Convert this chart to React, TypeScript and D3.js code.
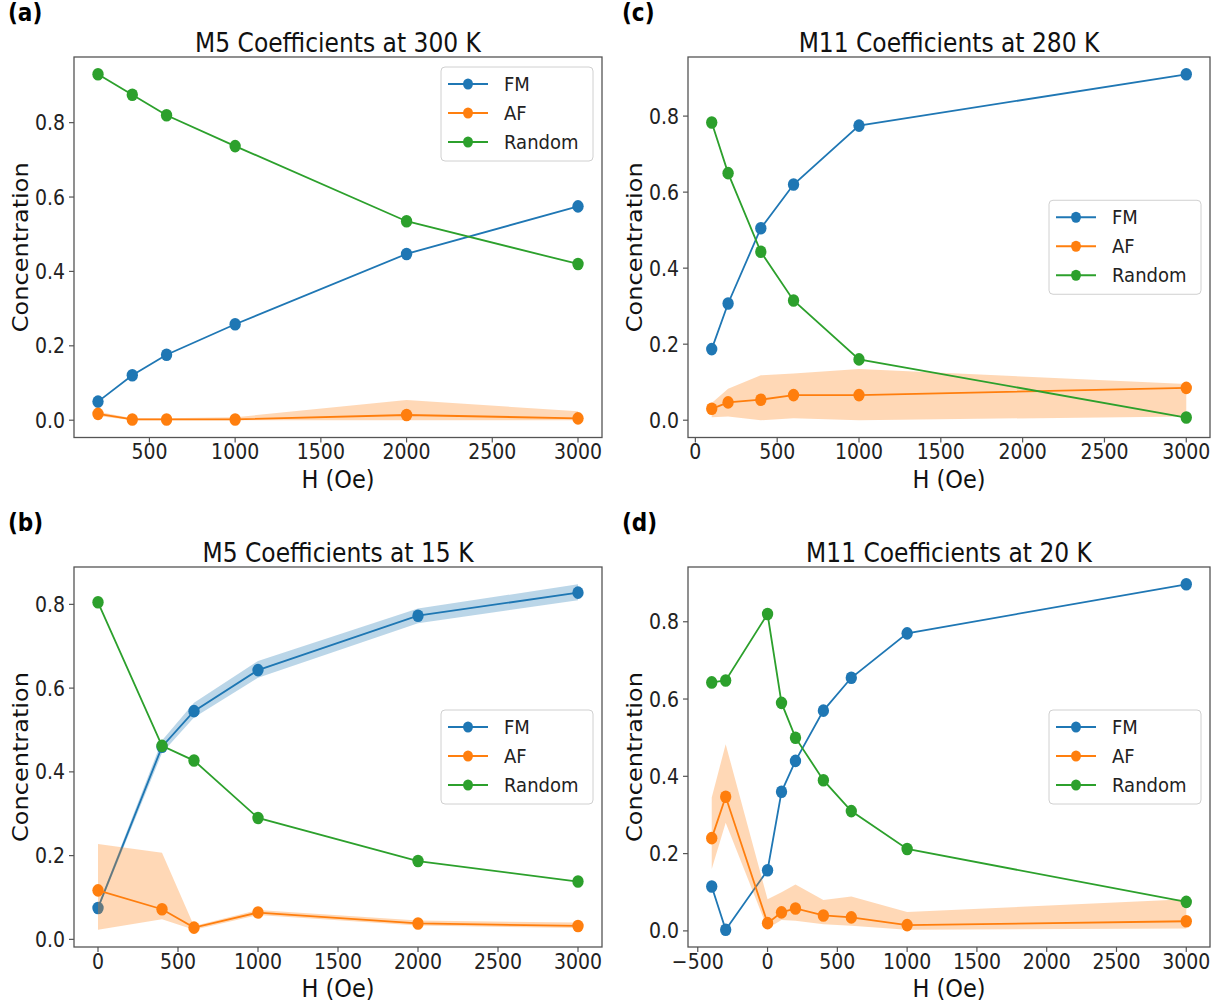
import * as d3 from 'd3';
import React from 'react';

const W = 1225, H = 1005;
const SX = 0.9; // reference picture is a little squashed horizontally
const FONT = '"DejaVu Sans", sans-serif';
const COLORS = { FM: '#1f77b4', AF: '#ff7f0e', Random: '#2ca02c' };
const names = ['FM', 'AF', 'Random'];

// (a) M5 at 300 K
const hA = [200, 400, 600, 1000, 2000, 3000];
const fmA = [0.05, 0.121, 0.176, 0.258, 0.447, 0.575];
const afA = [0.017, 0.002, 0.002, 0.002, 0.014, 0.005];
const afLoA = [0.011, 0.0, 0.0, 0.0, 0.0, 0.0];
const afHiA = [0.023, 0.005, 0.005, 0.008, 0.054, 0.024];
const rndA = [0.93, 0.875, 0.82, 0.737, 0.535, 0.42];

// (b) M5 at 15 K
const hB = [0, 400, 600, 1000, 2000, 3000];
const fmB = [0.075, 0.46, 0.545, 0.643, 0.773, 0.828];
const fmLoB = [0.07, 0.445, 0.53, 0.625, 0.755, 0.81];
const fmHiB = [0.08, 0.475, 0.565, 0.665, 0.79, 0.848];
const afB = [0.117, 0.072, 0.028, 0.064, 0.038, 0.032];
const afLoB = [0.023, 0.048, 0.023, 0.058, 0.033, 0.027];
const afHiB = [0.228, 0.207, 0.032, 0.07, 0.045, 0.04];
const rndB = [0.805, 0.462, 0.427, 0.29, 0.187, 0.138];

// (c) M11 at 280 K
const hC = [100, 200, 400, 600, 1000, 3000];
const fmC = [0.187, 0.307, 0.505, 0.62, 0.775, 0.91];
const afC = [0.03, 0.047, 0.054, 0.066, 0.066, 0.085];
const afLoC = [0.008, 0.01, 0.0, 0.005, 0.0, 0.01];
const afHiC = [0.045, 0.083, 0.118, 0.123, 0.135, 0.095];
const rndC = [0.783, 0.65, 0.443, 0.315, 0.16, 0.007];

// (d) M11 at 20 K
const hD = [-400, -300, 0, 100, 200, 400, 600, 1000, 3000];
const fmD = [0.115, 0.003, 0.157, 0.36, 0.44, 0.57, 0.655, 0.77, 0.897];
const afD = [0.24, 0.347, 0.02, 0.048, 0.058, 0.04, 0.035, 0.015, 0.025];
const afLoD = [0.16, 0.28, 0.006, 0.028, 0.026, 0.017, 0.013, 0.003, 0.006];
const afHiD = [0.345, 0.483, 0.082, 0.1, 0.12, 0.08, 0.089, 0.049, 0.082];
const rndD = [0.643, 0.648, 0.82, 0.59, 0.5, 0.39, 0.31, 0.212, 0.075];

const yTicks = [0, 0.2, 0.4, 0.6, 0.8];
const xTicksA = [500, 1000, 1500, 2000, 2500, 3000];
const xTicks0 = [0, 500, 1000, 1500, 2000, 2500, 3000];
const xTicksD = [-500, 0, 500, 1000, 1500, 2000, 2500, 3000];

type Series = { name: string; y: number[]; lo?: number[]; hi?: number[] };

const sq = (x: number, y: number) => `translate(${x},${y}) scale(${SX},1)`;

function Panel({ label, title, box, h, series, xTicks, legendPos }: any) {
  const [x0, x1, y0, y1] = box;
  const ys: number[] = [];
  series.forEach((s: Series) => {
    ys.push(...s.y);
    if (s.lo) ys.push(...s.lo, ...(s.hi as number[]));
  });
  // matplotlib-style 5% margins
  const [hx0, hx1] = d3.extent(h) as [number, number];
  const [vy0, vy1] = d3.extent(ys) as [number, number];
  const mx = (hx1 - hx0) * 0.05, my = (vy1 - vy0) * 0.05;
  const x = d3.scaleLinear().domain([hx0 - mx, hx1 + mx]).range([x0, x1]);
  const y = d3.scaleLinear().domain([vy0 - my, vy1 + my]).range([y1, y0]);
  const line = d3.line<number>().x((_, i) => x(h[i])).y(d => y(d));
  const fmtX = d3.format('d');
  const fmtY = d3.format('.1f');

  const lw = 152, lh = 94;
  const lx = x1 - 9 - lw;
  const ly = legendPos === 'upper right' ? y0 + 10 : (y0 + y1) / 2 - lh / 2;

  return (
    <g>
      <text transform={sq(x0 - 66, y0 - 36)} fontFamily={FONT} fontWeight="bold" fontSize={24}>{label}</text>
      <text transform={sq((x0 + x1) / 2, y0 - 5)} textAnchor="middle" fontFamily={FONT} fontSize={26} fill="#111">{title}</text>
      {series.map((s: Series) => {
        const c = (COLORS as any)[s.name];
        const area = s.lo
          ? d3.area<number>().x((_, i) => x(h[i])).y0((_, i) => y((s.lo as number[])[i])).y1((_, i) => y((s.hi as number[])[i]))
          : null;
        return (
          <g key={s.name}>
            <path d={line(s.y) || ''} fill="none" stroke={c} strokeWidth={1.8} />
            {s.y.map((v, i) => (
              <ellipse key={i} cx={x(h[i])} cy={y(v)} rx={6.3 * SX} ry={6.3} fill={c} />
            ))}
            {area && <path d={area(s.y) || ''} fill={c} fillOpacity={0.3} stroke="none" />}
          </g>
        );
      })}
      <rect x={x0} y={y0} width={x1 - x0} height={y1 - y0} fill="none" stroke="#555" strokeWidth={1.3} />
      {yTicks.map(t => (
        <g key={'y' + t}>
          <line x1={x0 - 5} x2={x0} y1={y(t)} y2={y(t)} stroke="#555" strokeWidth={1.2} />
          <text transform={sq(x0 - 9, y(t) + 7.5)} textAnchor="end" fontFamily={FONT} fontSize={21} fill="#222">{fmtY(t)}</text>
        </g>
      ))}
      {xTicks.map((t: number) => (
        <g key={'x' + t}>
          <line x1={x(t)} x2={x(t)} y1={y1} y2={y1 + 5} stroke="#555" strokeWidth={1.2} />
          <text transform={sq(x(t), y1 + 21.5)} textAnchor="middle" fontFamily={FONT} fontSize={21} fill="#222">{fmtX(t)}</text>
        </g>
      ))}
      <text transform={sq((x0 + x1) / 2, y1 + 50)} textAnchor="middle" fontFamily={FONT} fontSize={25} fill="#111">H (Oe)</text>
      <text transform={`translate(${x0 - 46},${(y0 + y1) / 2}) scale(${SX},1) rotate(-90)`} textAnchor="middle" fontFamily={FONT} fontSize={24} fill="#111">Concentration</text>
      <g transform={`translate(${lx},${ly})`}>
        <rect width={lw} height={lh} rx={4} fill="white" fillOpacity={0.8} stroke="#d0d0d0" strokeWidth={1} />
        {names.map((n, i) => (
          <g key={n} transform={`translate(0,${17 + i * 29})`}>
            <line x1={7} x2={47} stroke={(COLORS as any)[n]} strokeWidth={1.8} />
            <ellipse cx={27} cy={0} rx={5.5 * SX} ry={5.5} fill={(COLORS as any)[n]} />
            <text transform={sq(63, 7)} fontFamily={FONT} fontSize={20} fill="#222">{n}</text>
          </g>
        ))}
      </g>
    </g>
  );
}

export default function App() {
  const left = [74, 602], right = [688, 1210];
  const top = [57, 437.5], bottom = [567, 947];
  return (
    <svg width={W} height={H} style={{ display: 'block', background: 'white', position: 'absolute', left: 0, top: 0 }}>
      <Panel label="(a)" title="M5 Coefficients at 300 K" box={[left[0], left[1], top[0], top[1]]} h={hA}
        series={[{ name: 'FM', y: fmA }, { name: 'AF', y: afA, lo: afLoA, hi: afHiA }, { name: 'Random', y: rndA }]}
        xTicks={xTicksA} legendPos="upper right" />
      <Panel label="(b)" title="M5 Coefficients at 15 K" box={[left[0], left[1], bottom[0], bottom[1]]} h={hB}
        series={[{ name: 'FM', y: fmB, lo: fmLoB, hi: fmHiB }, { name: 'AF', y: afB, lo: afLoB, hi: afHiB }, { name: 'Random', y: rndB }]}
        xTicks={xTicks0} legendPos="center right" />
      <Panel label="(c)" title="M11 Coefficients at 280 K" box={[right[0], right[1], top[0], top[1]]} h={hC}
        series={[{ name: 'FM', y: fmC }, { name: 'AF', y: afC, lo: afLoC, hi: afHiC }, { name: 'Random', y: rndC }]}
        xTicks={xTicks0} legendPos="center right" />
      <Panel label="(d)" title="M11 Coefficients at 20 K" box={[right[0], right[1], bottom[0], bottom[1]]} h={hD}
        series={[{ name: 'FM', y: fmD }, { name: 'AF', y: afD, lo: afLoD, hi: afHiD }, { name: 'Random', y: rndD }]}
        xTicks={xTicksD} legendPos="center right" />
    </svg>
  );
}
